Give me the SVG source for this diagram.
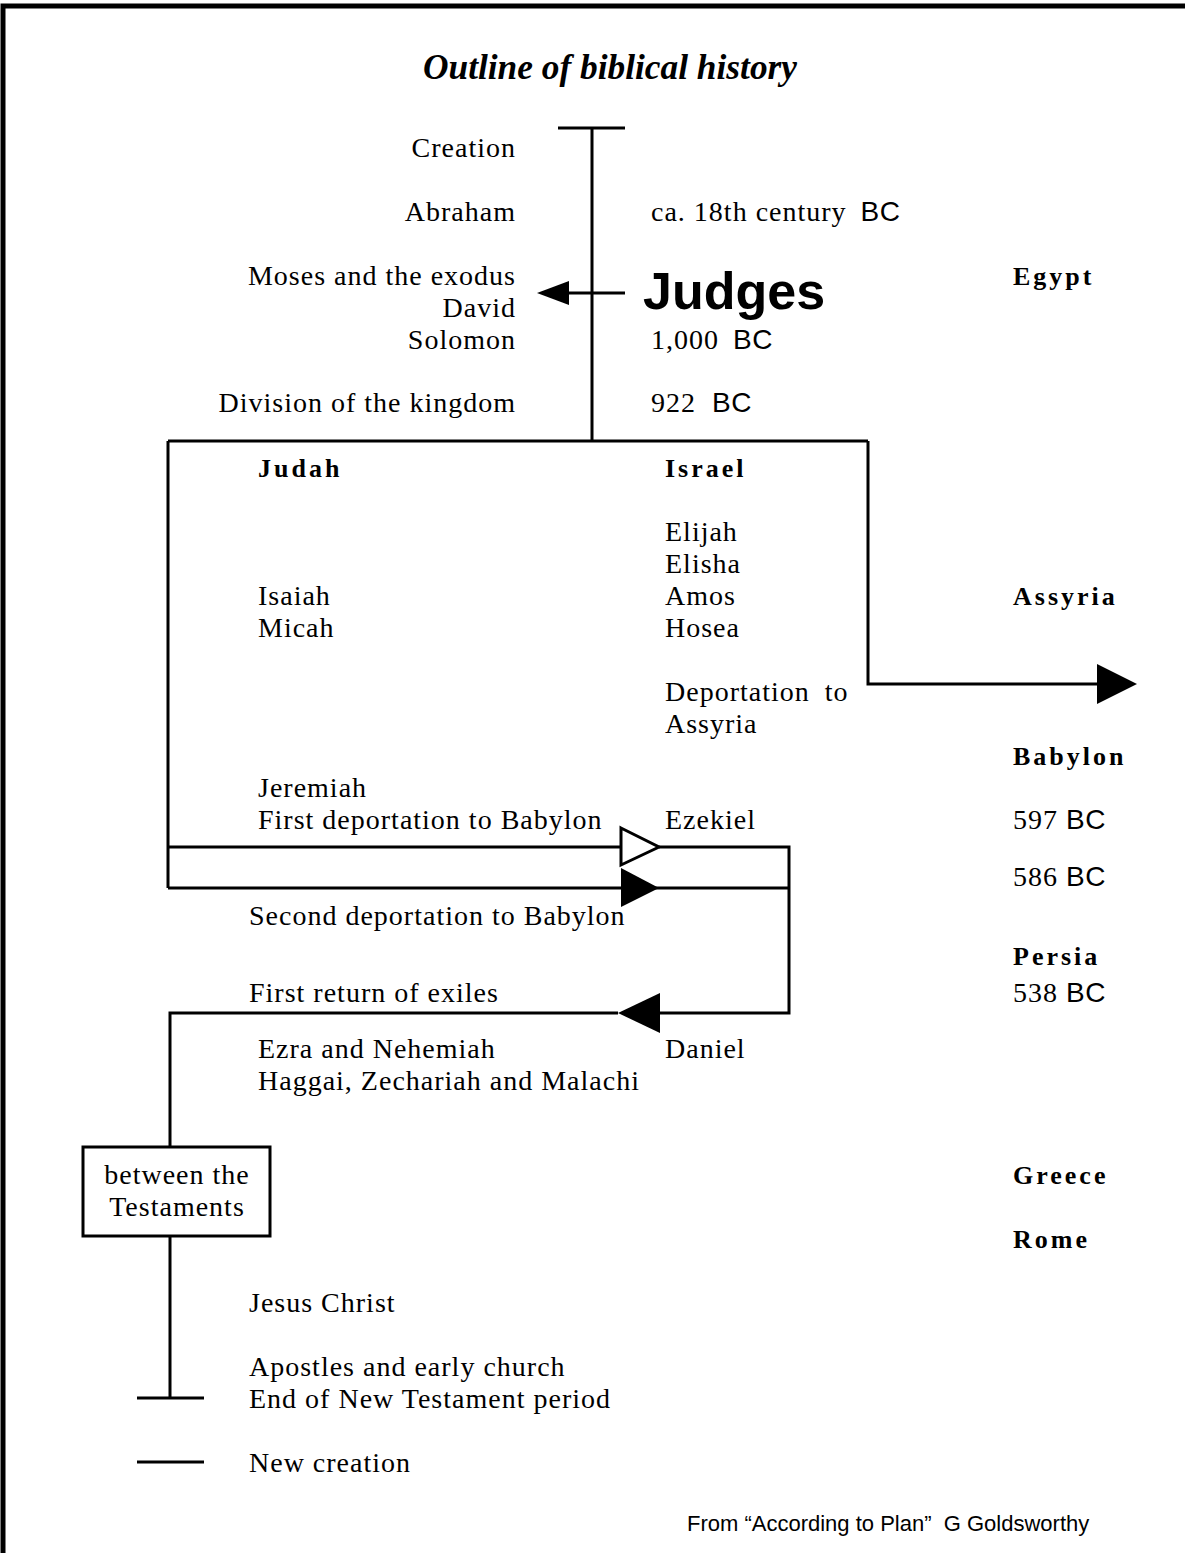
<svg xmlns="http://www.w3.org/2000/svg" width="1185" height="1553" viewBox="0 0 1185 1553">
<style>
.t{font-family:"Liberation Serif","Times New Roman",serif;font-size:28px;letter-spacing:1px;fill:#000}
.e{text-anchor:end}
.b{font-family:"Liberation Serif","Times New Roman",serif;font-size:26px;font-weight:bold;letter-spacing:3px;fill:#000}
.s{font-family:"Liberation Sans",Arial,sans-serif;font-size:28px;letter-spacing:0.5px}
.ln{fill:none;stroke:#000;stroke-width:3}
</style>
<rect x="0" y="0" width="1185" height="1553" fill="#fff"/>
<path d="M3,1553 V6 H1185" fill="none" stroke="#000" stroke-width="5"/>
<text x="610" y="79" text-anchor="middle" font-family="Liberation Serif,serif" font-size="36" font-weight="bold" font-style="italic" textLength="374" lengthAdjust="spacingAndGlyphs">Outline of biblical history</text>

<g id="connectors">
<path class="ln" d="M558,128 H625 M592,128 V441 M168,441 H868 M168,441 V888 M868,441 V684 H1100"/>
<path class="ln" d="M565,293 H625" stroke-width="4"/>
<polygon points="537,293 569,281 569,305" fill="#000"/>
<polygon points="1097,664 1137,684 1097,704" fill="#000"/>
<path class="ln" d="M168,847 H621 M659,847 H789 V1013 H660 M618,1013 H170 V1147 M170,1236 V1398 M137,1398 H204 M137,1462 H204 M168,888 H789"/>
<polygon points="621,828 659,847 621,865" fill="#fff" stroke="#000" stroke-width="3"/>
<polygon points="621,868 659,888 621,907" fill="#000"/>
<polygon points="660,993 618,1013 660,1033" fill="#000"/>
</g>

<g id="judges"><text x="643" y="309" font-family="Liberation Sans,Arial,sans-serif" font-size="52" font-weight="bold">Judges</text></g>

<g id="left-early">
<text class="t e" x="516" y="157">Creation</text>
<text class="t e" x="516" y="221">Abraham</text>
<text class="t e" x="516" y="285">Moses and the exodus</text>
<text class="t e" x="516" y="317">David</text>
<text class="t e" x="516" y="349">Solomon</text>
<text class="t e" x="516" y="412">Division of the kingdom</text>
</g>
<g id="dates-early">
<text class="t" x="651" y="221">ca. 18th century <tspan class="s" dx="6">BC</tspan></text>
<text class="t" x="651" y="349">1,000 <tspan class="s" dx="6">BC</tspan></text>
<text class="t" x="651" y="412">922 <tspan class="s" dx="8">BC</tspan></text>
</g>

<g id="empires">
<text class="b" x="1013" y="285">Egypt</text>
<text class="b" x="1013" y="605">Assyria</text>
<text class="b" x="1013" y="765">Babylon</text>
<text class="b" x="1013" y="965">Persia</text>
<text class="b" x="1013" y="1184">Greece</text>
<text class="b" x="1013" y="1248">Rome</text>
<text class="t" x="1013" y="829">597 <tspan class="s">BC</tspan></text>
<text class="t" x="1013" y="886">586 <tspan class="s">BC</tspan></text>
<text class="t" x="1013" y="1002">538 <tspan class="s">BC</tspan></text>
</g>

<g id="judah">
<text class="b" x="258" y="477">Judah</text>
<text class="t" x="258" y="605">Isaiah</text>
<text class="t" x="258" y="637">Micah</text>
<text class="t" x="258" y="797">Jeremiah</text>
<text class="t" x="258" y="829">First deportation to Babylon</text>
</g>

<g id="israel">
<text class="b" x="665" y="477">Israel</text>
<text class="t" x="665" y="541">Elijah</text>
<text class="t" x="665" y="573">Elisha</text>
<text class="t" x="665" y="605">Amos</text>
<text class="t" x="665" y="637">Hosea</text>
<text class="t" x="665" y="701" word-spacing="7">Deportation to</text>
<text class="t" x="665" y="733">Assyria</text>
<text class="t" x="665" y="829">Ezekiel</text>
</g>

<g id="exile">
<text class="t" x="249" y="925">Second deportation to Babylon</text>
<text class="t" x="249" y="1002">First return of exiles</text>
<text class="t" x="258" y="1058">Ezra and Nehemiah</text>
<text class="t" x="258" y="1090">Haggai, Zechariah and Malachi</text>
<text class="t" x="665" y="1058">Daniel</text>
</g>

<g id="between-testaments">
<rect x="83" y="1147" width="187" height="89" fill="#fff" stroke="#000" stroke-width="3"/>
<text class="t" x="177" y="1184" text-anchor="middle">between the</text>
<text class="t" x="177" y="1216" text-anchor="middle">Testaments</text>
</g>

<g id="new-testament">
<text class="t" x="249" y="1312">Jesus Christ</text>
<text class="t" x="249" y="1376">Apostles and early church</text>
<text class="t" x="249" y="1408">End of New Testament period</text>
<text class="t" x="249" y="1472">New creation</text>
</g>

<text x="687" y="1531" font-family="Liberation Sans,Arial,sans-serif" font-size="22" xml:space="preserve">From “According to Plan”  G Goldsworthy</text>
</svg>
